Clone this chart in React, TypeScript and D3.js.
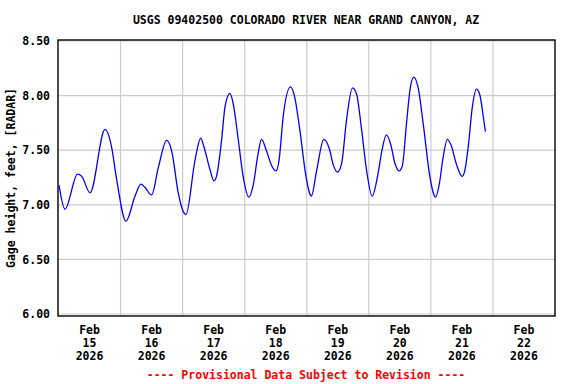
import { useMemo } from "react";
import * as d3 from "d3";

const WIDTH = 576;
const HEIGHT = 384;
const FONT = "'DejaVu Sans Mono', 'Liberation Mono', monospace";

// hours since Feb 15 2026 00:00 (local time)
const hours = [
  0.2, 2.5, 7.4, 9.0, 12.2, 18.0, 20.6, 22.5, 26.1, 29.6, 31.9, 33.4, 36.0, 38.6,
  41.8, 43.8, 46.3, 48.2, 49.3, 52.8, 55.0, 56.0, 58.6, 60.1, 61.1, 63.1, 64.4,
  66.3, 67.6, 69.5, 71.4, 73.6, 75.3, 77.2, 78.5, 80.5, 82.4, 84.1, 85.3, 86.9,
  89.7, 91.4, 93.3, 95.7, 97.2, 97.8, 99.8, 102.6, 104.9, 106.2, 107.9, 109.5,
  111.4, 113.7, 115.3, 117.2, 119.1, 121.3, 123.6, 125.1, 126.8, 128.5, 130.1,
  131.7, 132.9, 134.6, 135.9, 137.4, 139.1, 141.0, 143.6, 145.2, 145.8, 147.4,
  148.7, 150.4, 151.9, 153.9, 156.1, 157.1, 158.4, 160.0, 161.6, 162.9, 164.2,
  165.1,
];
const gageHeight = [
  7.18, 6.96, 7.28, 7.26, 7.11, 7.69, 7.52, 7.23, 6.85, 7.08, 7.19, 7.16, 7.09, 7.34,
  7.59, 7.49, 7.11, 6.94, 6.91, 7.41, 7.61, 7.55, 7.32, 7.22, 7.26, 7.6, 7.9,
  8.02, 7.92, 7.6, 7.26, 7.07, 7.18, 7.47, 7.6, 7.49, 7.36, 7.31, 7.41, 7.81,
  8.08, 7.98, 7.69, 7.26, 7.1, 7.08, 7.31, 7.6, 7.5, 7.37, 7.3, 7.38,
  7.78, 8.07, 8.01, 7.69, 7.32, 7.08, 7.29, 7.5, 7.64, 7.55, 7.38,
  7.31, 7.35, 7.75, 8.05, 8.17, 8.07, 7.75, 7.26, 7.09, 7.07, 7.21,
  7.43, 7.6, 7.54, 7.37, 7.26, 7.31, 7.52, 7.89, 8.06, 8.01, 7.82,
  7.67,
];
const yTicks = [6.0, 6.5, 7.0, 7.5, 8.0, 8.5];
const dayLabels = ["15", "16", "17", "18", "19", "20", "21", "22"];

const TITLE = "USGS 09402500 COLORADO RIVER NEAR GRAND CANYON, AZ";
const Y_LABEL = "Gage height, feet, [RADAR]";
const FOOTER = "---- Provisional Data Subject to Revision ----";

const PLOT = { left: 58, right: 555, top: 40, bottom: 316 };

export default function App() {
  const start = new Date(2026, 1, 15);
  const end = new Date(2026, 1, 23);

  const x = useMemo(
    () => d3.scaleTime().domain([start, end]).range([PLOT.left + 0.5, PLOT.right]),
    []
  );
  const y = useMemo(() => d3.scaleLinear().domain([6, 8.5]).range([314, 41]), []);

  const points = hours.map((h, i) => ({
    t: new Date(start.getTime() + h * 3600 * 1000),
    v: gageHeight[i],
  }));

  const line = d3
    .line<{ t: Date; v: number }>()
    .x((d) => x(d.t))
    .y((d) => y(d.v))
    .curve(d3.curveMonotoneX);

  const days = d3.timeDay.range(start, end);
  const gridDays = d3.timeDay.range(d3.timeDay.offset(start, 1), end);

  return (
    <svg
      width={WIDTH}
      height={HEIGHT}
      style={{ position: "absolute", left: 0, top: 0, background: "#fff" }}
      fontFamily={FONT}
      fontWeight="bold"
      fontSize={11.5}
    >
      <rect width={WIDTH} height={HEIGHT} fill="#fff" />
      <text x={306} y={24} textAnchor="middle" fill="#000">
        {TITLE}
      </text>

      {/* grid */}
      <g stroke="#cccccc" strokeWidth={1.2}>
        {yTicks.map((t) => (
          <line key={t} x1={PLOT.left} x2={PLOT.right} y1={y(t)} y2={y(t)} />
        ))}
        {gridDays.map((d) => (
          <line key={+d} x1={x(d)} x2={x(d)} y1={PLOT.top} y2={PLOT.bottom} />
        ))}
      </g>

      <path d={line(points) ?? ""} fill="none" stroke="#0000ff" strokeWidth={1.3} />

      <rect
        x={PLOT.left}
        y={PLOT.top}
        width={PLOT.right - PLOT.left}
        height={PLOT.bottom - PLOT.top}
        fill="none"
        stroke="#000"
        strokeWidth={1.4}
      />

      {/* y ticks */}
      {yTicks.map((t) => (
        <text key={t} x={50} y={y(t)} dy="0.36em" textAnchor="end" fill="#000">
          {t.toFixed(2)}
        </text>
      ))}

      <text
        transform={`translate(15,${(PLOT.top + PLOT.bottom) / 2}) rotate(-90)`}
        textAnchor="middle"
        fill="#000"
      >
        {Y_LABEL}
      </text>

      {/* x ticks: label at noon */}
      {days.map((d, i) => {
        const cx = x(d3.timeHour.offset(d, 12));
        return (
          <text key={+d} x={cx} textAnchor="middle" fill="#000">
            <tspan x={cx} y={334}>Feb</tspan>
            <tspan x={cx} y={347}>{dayLabels[i]}</tspan>
            <tspan x={cx} y={360}>2026</tspan>
          </text>
        );
      })}

      <text x={306} y={379} textAnchor="middle" fill="#ff0000">
        {FOOTER}
      </text>
    </svg>
  );
}
